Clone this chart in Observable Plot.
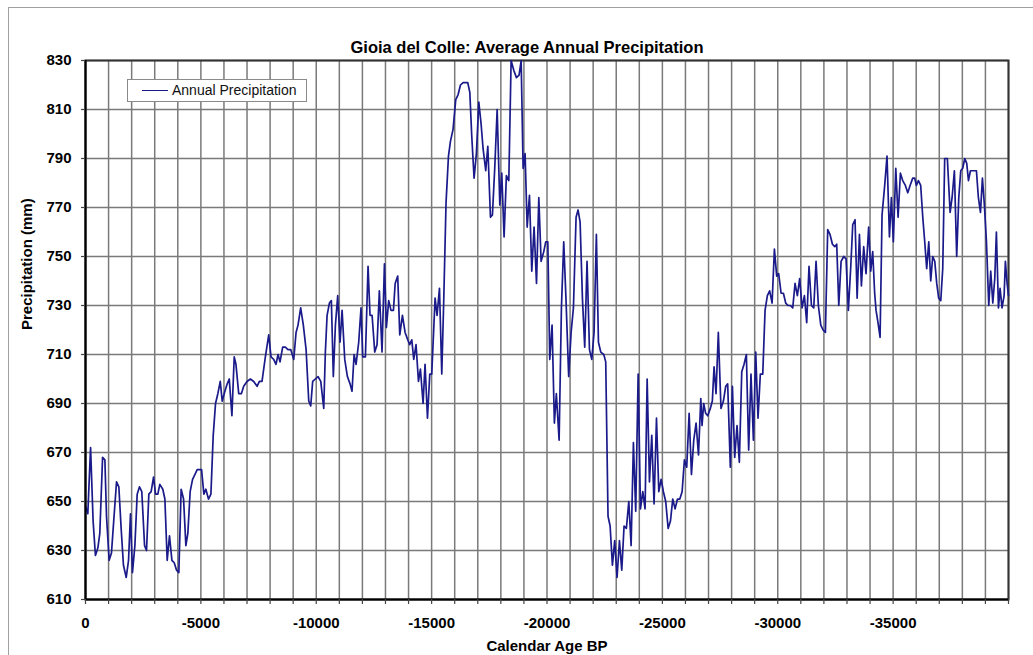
<!DOCTYPE html>
<html>
<head>
<meta charset="utf-8">
<script src="https://cdn.jsdelivr.net/npm/d3@7"></script>
<script src="https://cdn.jsdelivr.net/npm/@observablehq/plot@0.6"></script>
<style>
  html, body { margin: 0; padding: 0; background: #fff; }
  #wrap { position: relative; width: 1033px; height: 655px; overflow: hidden; }
  #outline { position: absolute; left: 8px; top: 7px; width: 1100px; height: 800px; border: 1px solid #a0a0a0; }
  #chart { position: absolute; left: 0; top: 0; }
  #legend { position: absolute; left: 127px; top: 79px; width: 178px; height: 21px; border: 1px solid #8a8a8a; background: #fff;
            font-family: "Liberation Sans", Arial, sans-serif; font-size: 14px; color: #111; }
  #legend .swatch { position: absolute; left: 14px; top: 10px; width: 26px; height: 0; border-top: 1.6px solid #1a1a8a; }
  #legend .label { position: absolute; left: 44px; top: 2px; white-space: nowrap; }
</style>
</head>
<body>
<div id="wrap">
  <div id="outline"></div>
  <div id="chart"></div>
  <div id="legend"><span class="swatch"></span><span class="label">Annual Precipitation</span></div>
</div>
<script>
// Calendar age (years BP, negative = before present) and average annual precipitation (mm)
const ageBP = [
  0, -100, -220, -330, -430, -535, -620, -740, -840, -910, -1025, -1125, -1230, -1345, -1445, -1545, -1645, -1765, -1865, -1950,
  -2035, -2140, -2240, -2340, -2440, -2560, -2645, -2745, -2845, -2950, -3035, -3135, -3220, -3350, -3440, -3540, -3640, -3745, -3845, -3945,
  -4045, -4145, -4250, -4350, -4435, -4535, -4640, -4740, -4840, -4940, -5030, -5130, -5215, -5330, -5435, -5535, -5635, -5735, -5840, -5925,
  -6040, -6140, -6230, -6345, -6445, -6520, -6640, -6755, -6855, -7000, -7145, -7290, -7435, -7535, -7650, -7795, -7940, -8040, -8155, -8255,
  -8345, -8430, -8545, -8660, -8775, -8895, -9025, -9125, -9210, -9325, -9440, -9560, -9675, -9760, -9845, -9960, -10080, -10195, -10325, -10395,
  -10470, -10570, -10655, -10740, -10830, -10930, -11030, -11120, -11235, -11350, -11465, -11550, -11640, -11725, -11840, -11940, -12015, -12130, -12245, -12330,
  -12420, -12535, -12635, -12735, -12850, -12955, -13040, -13140, -13240, -13345, -13420, -13530, -13620, -13735, -13850, -13965, -14050, -14140, -14225, -14325,
  -14430, -14515, -14630, -14715, -14820, -14920, -15005, -15150, -15235, -15340, -15440, -15525, -15625, -15730, -15815, -15930, -16045, -16145, -16250, -16365,
  -16480, -16565, -16655, -16740, -16840, -16940, -17045, -17145, -17230, -17345, -17435, -17550, -17635, -17735, -17840, -17955, -18040, -18140, -18240, -18345,
  -18445, -18560, -18675, -18790, -18880, -18965, -19050, -19140, -19240, -19340, -19440, -19545, -19645, -19745, -19860, -19945, -20035, -20120, -20220, -20320,
  -20405, -20525, -20625, -20725, -20825, -20940, -21045, -21145, -21260, -21345, -21435, -21535, -21635, -21735, -21840, -21940, -22040, -22140, -22230, -22330,
  -22460, -22545, -22645, -22735, -22835, -22935, -23035, -23140, -23240, -23340, -23440, -23545, -23645, -23745, -23845, -23950, -24050, -24150, -24250, -24340,
  -24440, -24540, -24640, -24745, -24845, -24945, -25045, -25145, -25250, -25350, -25450, -25550, -25655, -25755, -25855, -25955, -26055, -26160, -26260, -26360,
  -26460, -26565, -26665, -26720, -26790, -26875, -26965, -27080, -27165, -27240, -27325, -27425, -27540, -27645, -27745, -27830, -27945, -28035, -28135, -28235,
  -28335, -28440, -28540, -28640, -28740, -28840, -28945, -29045, -29145, -29245, -29350, -29450, -29550, -29650, -29755, -29855, -29955, -30040, -30145, -30245,
  -30345, -30445, -30550, -30650, -30750, -30850, -30950, -31055, -31155, -31255, -31355, -31460, -31560, -31660, -31760, -31865, -31965, -32065, -32165, -32265,
  -32370, -32470, -32555, -32645, -32745, -32860, -32960, -33060, -33165, -33250, -33350, -33440, -33540, -33625, -33725, -33825, -33940, -34030, -34115, -34200,
  -34260, -34345, -34435, -34520, -34635, -34735, -34840, -34925, -35010, -35115, -35215, -35315, -35415, -35530, -35635, -35735, -35850, -35935, -36010, -36095,
  -36195, -36285, -36370, -36455, -36545, -36630, -36715, -36805, -36890, -36975, -37065, -37150, -37235, -37350, -37470, -37555, -37655, -37755, -37845, -37930,
  -38015, -38105, -38190, -38265, -38350, -38435, -38525, -38610, -38695, -38785, -38870, -38955, -39045, -39145, -39230, -39320, -39405, -39475, -39565, -39635,
  -39720, -39810, -39865, -39940, -40000
];
const precipMm = [
  648, 645, 672, 642, 628, 631, 637, 668, 667, 644, 626, 629, 643, 658, 656, 639, 624, 619, 626, 645,
  621, 632, 653, 656, 654, 632, 630, 653, 654, 660, 653, 653, 657, 655, 651, 626, 636, 626, 625, 622,
  621, 655, 651, 632, 637, 654, 659, 661, 663, 663, 663, 653, 655, 651, 653, 677, 690, 694, 699, 691,
  695, 698, 700, 685, 709, 706, 694, 694, 697, 699, 700, 699, 697, 699, 699, 709, 718, 709, 708, 706,
  710, 707, 713, 713, 712, 712, 708, 719, 722, 729, 722, 712, 691, 689, 699, 700, 701, 699, 688, 711,
  726, 731, 732, 701, 722, 734, 715, 728, 708, 701, 698, 695, 710, 706, 715, 729, 709, 709, 746, 726,
  726, 711, 714, 736, 711, 747, 721, 732, 728, 728, 739, 742, 718, 726, 719, 716, 714, 716, 708, 714,
  699, 704, 690, 706, 684, 702, 702, 733, 726, 737, 702, 732, 772, 791, 797, 802, 814, 816, 820, 821,
  821, 821, 817, 799, 782, 792, 813, 804, 794, 785, 795, 766, 767, 786, 810, 771, 784, 758, 783, 781,
  830, 826, 823, 824, 830, 786, 792, 762, 775, 744, 762, 739, 774, 748, 752, 756, 756, 708, 722, 682,
  694, 675, 729, 756, 732, 701, 719, 729, 766, 769, 764, 733, 713, 748, 712, 708, 719, 759, 715, 711,
  710, 707, 644, 640, 624, 634, 619, 634, 622, 640, 639, 650, 632, 674, 646, 702, 647, 654, 647, 700,
  658, 677, 649, 684, 654, 659, 654, 650, 639, 642, 651, 647, 651, 651, 654, 667, 664, 686, 661, 675,
  682, 669, 692, 681, 690, 686, 685, 688, 691, 705, 694, 719, 688, 691, 697, 698, 664, 697, 668, 681,
  666, 703, 706, 710, 671, 702, 675, 711, 684, 702, 702, 728, 734, 736, 731, 753, 742, 743, 735, 735,
  731, 730, 730, 729, 739, 734, 741, 729, 734, 723, 746, 730, 729, 748, 730, 722, 720, 719, 761, 759,
  755, 754, 755, 730, 748, 750, 749, 728, 746, 763, 765, 733, 759, 738, 754, 743, 762, 744, 752, 735,
  728, 723, 717, 767, 779, 791, 758, 774, 756, 786, 766, 784, 781, 779, 776, 779, 782, 782, 779, 781,
  779, 766, 756, 745, 756, 740, 750, 748, 739, 733, 732, 745, 790, 790, 768, 774, 785, 750, 774, 785,
  786, 790, 788, 781, 785, 785, 785, 785, 774, 768, 782, 771, 756, 730, 744, 731, 741, 760, 729, 737,
  729, 734, 748, 739, 734
];

// Axis ticks
const yTicks = [610, 630, 650, 670, 690, 710, 730, 750, 770, 790, 810, 830];
const xLabelTicks = [0, -5000, -10000, -15000, -20000, -25000, -30000, -35000];
const xGridTicks = d3.range(0, -40001, -1000);

const chartTitle = "Gioia del Colle: Average Annual Precipitation";
const xTitle = "Calendar Age BP";
const yTitle = "Precipitation (mm)";

const series = ageBP.map((a, i) => ({age: a, precip: precipMm[i]}));

const gridStyle = {stroke: "#7a7a7a", strokeOpacity: 1, strokeWidth: 1.5};

const chart = Plot.plot({
  width: 1033,
  height: 655,
  marginLeft: 85,
  marginRight: 25,
  marginTop: 60,
  marginBottom: 56,
  style: {
    fontFamily: "'Liberation Sans', Arial, sans-serif",
    fontSize: "15px",
    fontWeight: "bold",
    color: "#000",
    background: "transparent",
    overflow: "visible"
  },
  x: {domain: [0, -40000]},
  y: {domain: [610, 830]},
  marks: [
    Plot.gridX(xGridTicks, gridStyle),
    Plot.gridY(yTicks, gridStyle),
    Plot.frame({stroke: "#333", strokeWidth: 2}),
    Plot.lineY(series, {x: "age", y: "precip", stroke: "#1a1a8a", strokeWidth: 1.7, curve: "linear"}),
    Plot.ruleX([0], {stroke: "#000", strokeWidth: 2}),
    Plot.ruleY([610], {stroke: "#000", strokeWidth: 2}),
    Plot.axisX(xGridTicks, {
      tickSize: 5, tickPadding: 13, stroke: "#444", strokeWidth: 1.2,
      tickFormat: d => (xLabelTicks.includes(d) ? String(d) : ""),
      label: null
    }),
    Plot.axisY(yTicks, {
      tickSize: 4, tickPadding: 10, stroke: "#444", strokeWidth: 1.2,
      tickFormat: d => String(d),
      label: null
    }),
    Plot.text([chartTitle], {frameAnchor: "top", dx: -20, dy: -19, fontSize: 16.5, fontWeight: "bold", fill: "#000"}),
    Plot.text([xTitle], {frameAnchor: "bottom", dy: 51, fontSize: 15, fontWeight: "bold", fill: "#000"}),
    Plot.text([yTitle], {frameAnchor: "left", dx: -58, rotate: -90, fontSize: 15, fontWeight: "bold", fill: "#000"})
  ]
});

document.getElementById("chart").appendChild(chart);
</script>
</body>
</html>
